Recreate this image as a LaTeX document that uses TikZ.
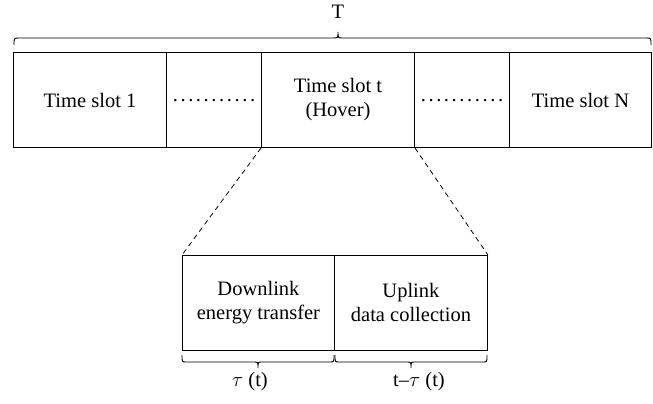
\documentclass[tikz,border=0pt]{standalone}
\usepackage{fontspec}
\setmainfont{Liberation Serif}
% a row of eleven spaced dots
\newcommand{\slotdots}{\raisebox{-3pt}{.\foreach\k in {1,...,10}{\hspace{2.6pt}.}}}
\begin{document}
\begin{tikzpicture}[x=1pt,y=-1pt,
  txt/.style={font=\fontsize{20.5}{24}\selectfont},
  slot/.style={txt,draw,line width=1pt,minimum height=95pt,inner sep=0pt,anchor=north west,align=center},
  part/.style={txt,draw,line width=0.9pt,minimum height=95pt,inner sep=0pt,anchor=north west,align=center},
  lbl/.style={txt,inner sep=0pt},
  bracepath/.style={line width=0.9pt},
  zoomline/.style={line width=0.8pt,dash pattern=on 5pt off 4pt}]
\useasboundingbox (0,0) rectangle (653,404);

% frame of N time slots
\node[slot,minimum width=153pt] (s1) at (13,52) {Time slot 1};
\node[slot,minimum width=95pt] (d1) at (166,52) {\slotdots};
\node[slot,minimum width=153pt] (st) at (261,52) {Time slot t\\(Hover)};
\node[slot,minimum width=95pt] (d2) at (414,52) {\slotdots};
\node[slot,minimum width=142pt] (sn) at (509,52) {Time slot N};

% brace over the whole frame
\draw[bracepath] (14,45) .. controls (14,38) .. (19,38) -- (333,38)
  .. controls (338,38) .. (338,32) .. controls (338,38) .. (343,38)
  -- (646,38) .. controls (651,38) .. (651,45);
\node[lbl] (T) at (338,12) {T};

% expanded slot
\node[part,minimum width=152pt] (dl) at (182,255) {Downlink\\energy transfer};
\node[part,minimum width=153pt] (ul) at (334,255) {Uplink\\data collection};

\draw[zoomline] (st.south west) -- (dl.north west);
\draw[zoomline] (st.south east) -- (ul.north east);

% braces under the two phases
\draw[bracepath] (182,355) .. controls (182,362) .. (186,362) -- (254,362)
  .. controls (258,362) .. (258,368) .. controls (258,362) .. (262,362)
  -- (330,362) .. controls (334,362) .. (334,355);
\draw[bracepath] (335,355) .. controls (335,362) .. (339,362) -- (407,362)
  .. controls (411,362) .. (411,368) .. controls (411,362) .. (415,362)
  -- (483,362) .. controls (487,362) .. (487,355);
\node[lbl] (tau) at (250,382) {$\tau$ (t)};
\node[lbl] (rest) at (419,382) {t--$\tau$ (t)};
\end{tikzpicture}
\end{document}
